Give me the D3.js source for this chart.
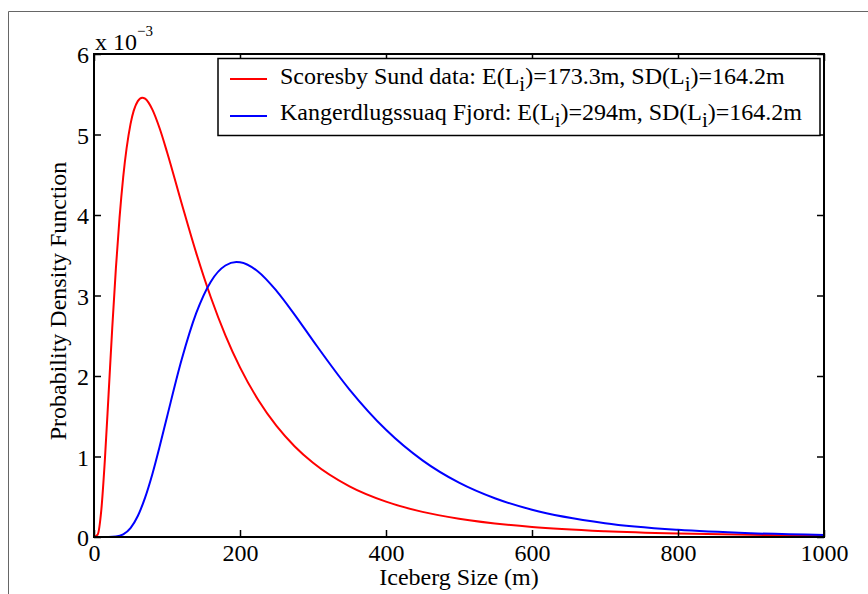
<!DOCTYPE html>
<html>
<head>
<meta charset="utf-8">
<script src="https://cdn.jsdelivr.net/npm/d3@7"></script>
<style>
  html, body { margin: 0; padding: 0; background: #fff; }
  svg text { font-family: "Liberation Serif", "Times New Roman", serif; fill: #000; }
</style>
</head>
<body>
<svg id="chart" width="868" height="594"></svg>
<script>
// ---- data (PDF values in units of 1e-3) ----
const scoresbySizes = [0,5,10,15,20,25,30,35,40,50,60,66,70,80,90,100,120,140,160,180,200,225,250,275,300,350,400,450,500,600,700,800,900,1000];
const scoresbyPdf   = [0,0.030,0.334,0.974,1.778,2.598,3.340,3.968,4.471,5.129,5.415,5.458,5.445,5.309,5.074,4.783,4.146,3.529,2.978,2.505,2.107,1.702,1.380,1.125,0.922,0.629,0.439,0.312,0.226,0.124,0.0715,0.0431,0.0270,0.0174];
const kangerSizes   = [0,20,30,40,50,60,70,80,90,100,120,140,160,180,195,200,225,250,275,300,350,400,450,500,550,600,700,800,900,1000];
const kangerPdf     = [0,0.0002,0.0053,0.033,0.111,0.261,0.489,0.783,1.126,1.491,2.201,2.780,3.172,3.373,3.416,3.413,3.296,3.058,2.760,2.440,1.832,1.332,0.952,0.675,0.478,0.338,0.171,0.0886,0.0469,0.0254];
const xTicks = [0,200,400,600,800,1000];
const yTicks = [0,1,2,3,4,5,6];
const seriesNames = ["Scoresby Sund data: ", "Kangerdlugssuaq Fjord: "];
const seriesStats = [["173.3m", "164.2m"], ["294m", "164.2m"]];
const seriesColors = ["#ff0000", "#0000ff"];
const xLabel = "Iceberg Size (m)";
const yLabel = "Probability Density Function";

// ---- layout ----
const svg = d3.select("#chart");
const L = 94, R = 824, T = 54, B = 537;
const x = d3.scaleLinear().domain([0, 1000]).range([L, R]);
const y = d3.scaleLinear().domain([0, 6]).range([B, T]);
const fs = 24;

// outer frame
svg.append("path")
  .attr("d", `M8.5,594 V11.5 H868`)
  .attr("fill", "none").attr("stroke", "#666").attr("stroke-width", 1);

// curves
const line = d3.line().x(d => x(d[0])).y(d => y(d[1])).curve(d3.curveMonotoneX);
const series = [
  d3.zip(scoresbySizes, scoresbyPdf),
  d3.zip(kangerSizes, kangerPdf)
];
series.forEach((s, i) => {
  svg.append("path").datum(s).attr("d", line)
    .attr("fill", "none").attr("stroke", seriesColors[i]).attr("stroke-width", 2)
    .attr("stroke-linejoin", "round");
});

// axes (ticks inward on all sides)
const tl = 7;
const axB = d3.axisBottom(x).tickValues(xTicks).tickSize(-tl).tickSizeOuter(0).tickFormat(d3.format("d"));
const axT = d3.axisTop(x).tickValues(xTicks).tickSize(-tl).tickSizeOuter(0).tickFormat("");
const axLft = d3.axisLeft(y).tickValues(yTicks).tickSize(-tl).tickSizeOuter(0).tickFormat(d3.format("d"));
const axRt = d3.axisRight(y).tickValues(yTicks).tickSize(-tl).tickSizeOuter(0).tickFormat("");

function styleAxis(g) {
  g.select(".domain").remove();
  g.selectAll(".tick line").attr("stroke", "#000").attr("stroke-width", 1.5);
  g.selectAll(".tick text").attr("font-size", fs).attr("fill", "#000");
}
const gB = svg.append("g").attr("transform", `translate(0,${B})`).call(axB).call(styleAxis);
gB.selectAll(".tick text").attr("y", 561 - B).attr("dy", 0);
svg.append("g").attr("transform", `translate(0,${T})`).call(axT).call(styleAxis);
const gL = svg.append("g").attr("transform", `translate(${L},0)`).call(axLft).call(styleAxis);
gL.selectAll(".tick text").attr("x", -5).attr("dy", "0.36em");
svg.append("g").attr("transform", `translate(${R},0)`).call(axRt).call(styleAxis);

// axes box
svg.append("rect").attr("x", L).attr("y", T).attr("width", R - L).attr("height", B - T)
  .attr("fill", "none").attr("stroke", "#000").attr("stroke-width", 2);

// exponent label
const ex = svg.append("text").attr("x", 95).attr("y", 50).attr("font-size", fs);
ex.append("tspan").text("x 10");
ex.append("tspan").attr("dy", -14).attr("font-size", 15).text("\u22123");

// axis labels
svg.append("text").attr("x", (L + R) / 2).attr("y", 585).attr("text-anchor", "middle")
  .attr("font-size", fs).text(xLabel);
svg.append("text").attr("transform", `translate(66,301) rotate(-90)`)
  .attr("text-anchor", "middle").attr("font-size", fs).text(yLabel);

// legend
const lg = svg.append("g");
lg.append("rect").attr("x", 218).attr("y", 58.5).attr("width", 602).attr("height", 77)
  .attr("fill", "#fff").attr("stroke", "#000").attr("stroke-width", 1.5);
const rows = [79, 116];
const bases = [84, 119.5];
seriesNames.forEach((name, i) => {
  lg.append("line").attr("x1", 230).attr("x2", 267).attr("y1", rows[i]).attr("y2", rows[i])
    .attr("stroke", seriesColors[i]).attr("stroke-width", 2);
  const t = lg.append("text").attr("x", 280).attr("y", bases[i]).attr("font-size", fs);
  t.append("tspan").text(name + "E(L");
  t.append("tspan").attr("dy", 7).attr("font-size", 21).text("i");
  t.append("tspan").attr("dy", -7).text(")=" + seriesStats[i][0] + ", SD(L");
  t.append("tspan").attr("dy", 7).attr("font-size", 21).text("i");
  t.append("tspan").attr("dy", -7).text(")=" + seriesStats[i][1]);
});
</script>
</body>
</html>
